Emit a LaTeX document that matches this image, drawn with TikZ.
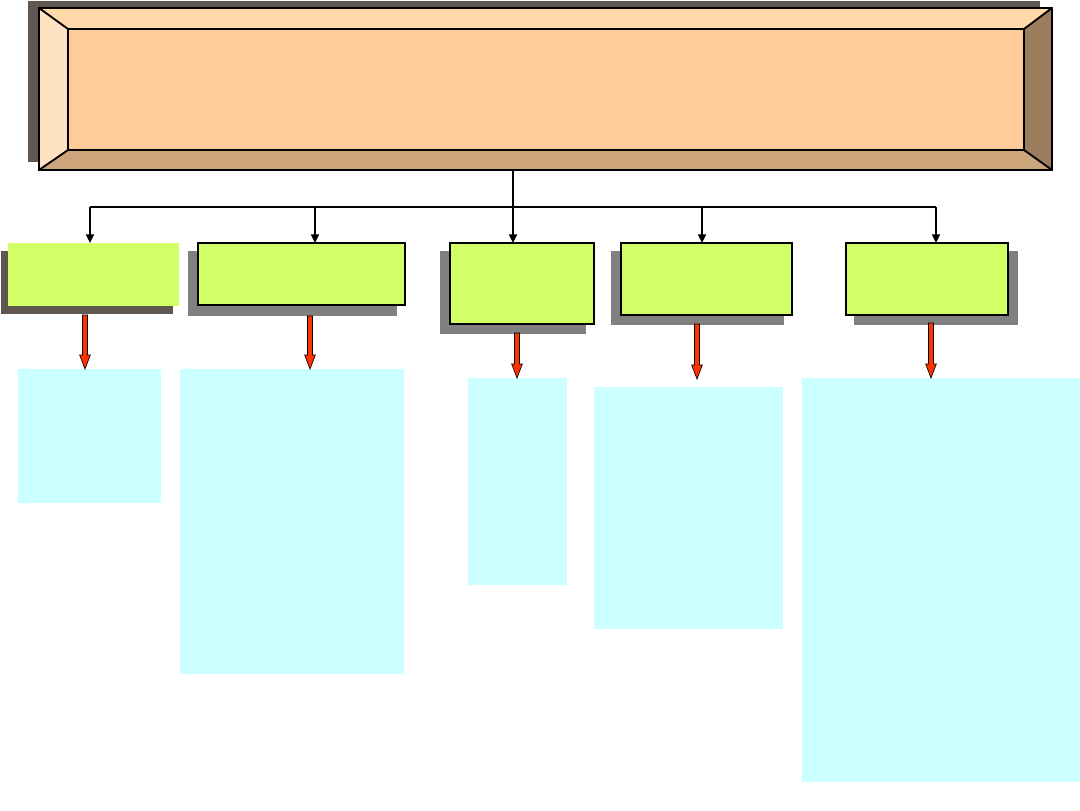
\documentclass[tikz,border=0pt]{standalone}
\usetikzlibrary{calc,arrows.meta}
\definecolor{shdark}{HTML}{5F5750}
\definecolor{shgray}{HTML}{808080}
\definecolor{grn}{HTML}{D2FF66}
\definecolor{cyn}{HTML}{CCFFFF}
\definecolor{redf}{HTML}{FF3300}
\definecolor{bvtop}{HTML}{FFD9AA}
\definecolor{bvleft}{HTML}{FFE2C4}
\definecolor{bvin}{HTML}{FFCC99}
\definecolor{bvbot}{HTML}{CCA67A}
\definecolor{bvright}{HTML}{9C7D5E}
\newcommand\boxat[6]{\node[#6, minimum width={(#4-#2)*0.75pt}, minimum height={(#5-#3)*0.75pt}] (#1) at ({(#2+#4)/2},{(#3+#5)/2}) {};}
\newcommand\redarrow[2]{\draw[redarrow] let \p1=(#1), \p2=(#2) in (\x1-1.9pt,\y1) -- (\x1+1.9pt,\y1) -- (\x1+1.9pt,\y2+10.5pt) -- (\x1+4pt,\y2+10.5pt) -- (\x1,\y2) -- (\x1-4pt,\y2+10.5pt) -- (\x1-1.9pt,\y2+10.5pt) -- cycle;}
\tikzset{
  bx/.style={inner sep=0pt, outer sep=0pt, draw=none},
  shadowA/.style={bx, fill=shdark},
  shadowB/.style={bx, fill=shgray},
  greenbox/.style={bx, fill=grn, draw=black, line width=1.5pt},
  greenplain/.style={bx, fill=grn},
  cyanbox/.style={bx, fill=cyn},
  bevel/.style={draw=black, line width=1.4pt, line join=round},
  conn/.style={draw=black, line width=1.1pt, -{Triangle[length=6.5pt,width=6pt]}},
  bus/.style={draw=black, line width=1.1pt},
  redarrow/.style={fill=redf, draw=black, line width=0.5pt, line join=miter}
}
\begin{document}
\begin{tikzpicture}[x=0.75pt,y=-0.75pt]
\useasboundingbox (0,0) rectangle (1080,810);
% top bevelled box
\boxat{topsh}{28}{1}{1040}{162}{shadowA}
\fill[bvtop] (39,8) -- (1052,8) -- (1024,29) -- (68,29) -- cycle;
\fill[bvleft] (39,8) -- (68,29) -- (68,150) -- (39,170) -- cycle;
\fill[bvbot] (39,170) -- (68,150) -- (1024,150) -- (1052,170) -- cycle;
\fill[bvright] (1052,8) -- (1052,170) -- (1024,150) -- (1024,29) -- cycle;
\boxat{inner}{68}{29}{1024}{150}{bx, fill=bvin, draw=black, line width=1.4pt}
\boxat{top}{39}{8}{1052}{170}{bx, draw=black, line width=1.4pt}
\draw[bevel] (top.north west) -- (inner.north west);
\draw[bevel] (top.south west) -- (inner.south west);
\draw[bevel] (top.north east) -- (inner.north east);
\draw[bevel] (top.south east) -- (inner.south east);
% green boxes with shadows
\boxat{s1}{1}{251}{173}{314}{shadowA}
\boxat{g1}{8}{243}{179}{306}{greenplain}
\boxat{s2}{188}{251}{397}{316}{shadowB}
\boxat{g2}{198}{243}{405}{305}{greenbox}
\boxat{s3}{440}{251}{586}{334}{shadowB}
\boxat{g3}{450}{243}{594}{324}{greenbox}
\boxat{s4}{611}{251}{784}{325}{shadowB}
\boxat{g4}{621}{243}{792}{315}{greenbox}
\boxat{s5}{854}{251}{1018}{325}{shadowB}
\boxat{g5}{846}{243}{1008}{315}{greenbox}
% cyan boxes
\boxat{c1}{18}{369}{161}{503}{cyanbox}
\boxat{c2}{180}{369}{404}{674}{cyanbox}
\boxat{c3}{468}{378}{567}{585}{cyanbox}
\boxat{c4}{594}{387}{783}{629}{cyanbox}
\boxat{c5}{802}{378}{1080}{782}{cyanbox}
% black connectors
\coordinate (t0) at (513,170);
\coordinate (b0) at (513,207);
\coordinate (bl) at (90,207);
\coordinate (br) at (936,207);
\coordinate (b2) at (315,207);
\coordinate (b4) at (702,207);
\draw[bus] (t0) -- (b0);
\draw[bus] (bl) -- (br);
\draw[conn] (bl) -- (bl |- g1.north);
\draw[conn] (b2) -- (b2 |- g2.north);
\draw[conn] (b0) -- (b0 |- g3.north);
\draw[conn] (b4) -- (b4 |- g4.north);
\draw[conn] (br) -- (br |- g5.north);
% red arrows
\coordinate (a1) at (85,315);
\coordinate (a2) at (310,316);
\coordinate (a3) at (517,333);
\coordinate (a4) at (697,324);
\coordinate (a5) at (931,323);
\coordinate (e4) at (697,379);
\redarrow{a1}{a1 |- c1.north}
\redarrow{a2}{a2 |- c2.north}
\redarrow{a3}{a3 |- c3.north}
\redarrow{a4}{e4}
\redarrow{a5}{a5 |- c5.north}
\end{tikzpicture}
\end{document}
